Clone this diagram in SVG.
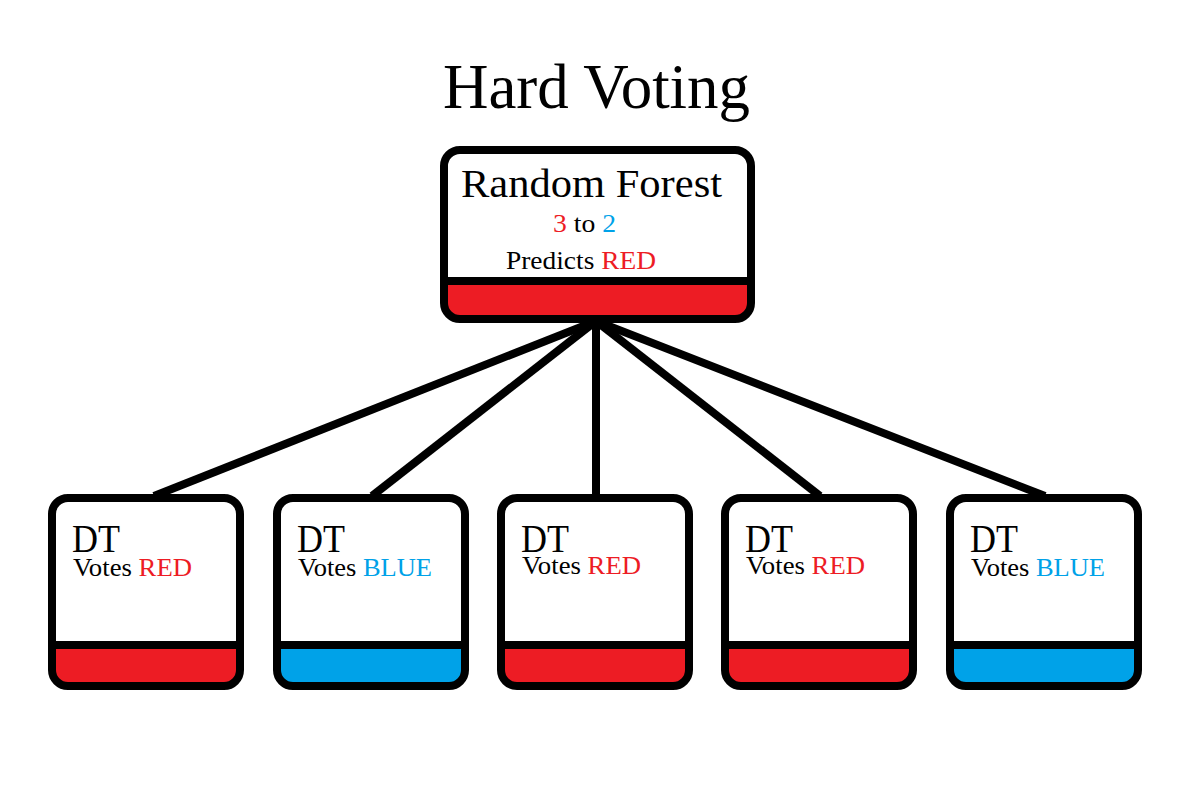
<svg xmlns="http://www.w3.org/2000/svg" width="1181" height="791" viewBox="0 0 1181 791">
<style>
text{font-family:"Liberation Serif","Times New Roman",serif;fill:#000}
.r{fill:#ED1C24}
.b{fill:#00A2E8}
.box{fill:none;stroke:#000;stroke-width:8}
.bar{fill:none;stroke:#000;stroke-width:8}
.conn line{stroke:#000;stroke-width:8}
.dt{font-size:39px}
.vt{font-size:25px}
</style>
<rect width="1181" height="791" fill="#fff"/>
<text x="443" y="108" font-size="63" textLength="307" lengthAdjust="spacingAndGlyphs">Hard Voting</text>
<g class="conn" id="connectors">
<line x1="596" y1="321" x2="154" y2="496"/>
<line x1="596" y1="321" x2="372" y2="496"/>
<line x1="596" y1="321" x2="596" y2="496"/>
<line x1="596" y1="321" x2="820" y2="496"/>
<line x1="596" y1="321" x2="1045" y2="496"/>
</g>
<g id="rf">
<rect x="444" y="150" width="307" height="169" rx="16" fill="#fff"/>
<path class="r" d="M444,281H751V303Q751,319 735,319H460Q444,319 444,303Z"/>
<rect class="box" x="444" y="150" width="307" height="169" rx="16"/>
<line class="bar" x1="444" y1="281" x2="751" y2="281"/>
<text x="461" y="197" font-size="41" textLength="261" lengthAdjust="spacingAndGlyphs">Random Forest</text>
<text x="553" y="232" font-size="26" textLength="63" lengthAdjust="spacingAndGlyphs"><tspan class="r">3</tspan> to <tspan class="b">2</tspan></text>
<text x="506" y="269" font-size="25" textLength="150" lengthAdjust="spacingAndGlyphs">Predicts <tspan class="r">RED</tspan></text>
</g>
<g id="dt1">
<rect x="52" y="498" width="188" height="188" rx="16" fill="#fff"/>
<path class="r" d="M52,645H240V670Q240,686 224,686H68Q52,686 52,670Z"/>
<rect class="box" x="52" y="498" width="188" height="188" rx="16"/>
<line class="bar" x1="52" y1="645" x2="240" y2="645"/>
<text class="dt" x="72" y="552" textLength="48" lengthAdjust="spacingAndGlyphs">DT</text>
<text class="vt" x="73" y="576" textLength="119" lengthAdjust="spacingAndGlyphs">Votes <tspan class="r">RED</tspan></text>
</g>
<g id="dt2">
<rect x="277" y="498" width="188" height="188" rx="16" fill="#fff"/>
<path class="b" d="M277,645H465V670Q465,686 449,686H293Q277,686 277,670Z"/>
<rect class="box" x="277" y="498" width="188" height="188" rx="16"/>
<line class="bar" x1="277" y1="645" x2="465" y2="645"/>
<text class="dt" x="297" y="552" textLength="48" lengthAdjust="spacingAndGlyphs">DT</text>
<text class="vt" x="298" y="576" textLength="134" lengthAdjust="spacingAndGlyphs">Votes <tspan class="b">BLUE</tspan></text>
</g>
<g id="dt3">
<rect x="501" y="498" width="188" height="188" rx="16" fill="#fff"/>
<path class="r" d="M501,645H689V670Q689,686 673,686H517Q501,686 501,670Z"/>
<rect class="box" x="501" y="498" width="188" height="188" rx="16"/>
<line class="bar" x1="501" y1="645" x2="689" y2="645"/>
<text class="dt" x="521" y="552" textLength="48" lengthAdjust="spacingAndGlyphs">DT</text>
<text class="vt" x="522" y="574" textLength="119" lengthAdjust="spacingAndGlyphs">Votes <tspan class="r">RED</tspan></text>
</g>
<g id="dt4">
<rect x="725" y="498" width="188" height="188" rx="16" fill="#fff"/>
<path class="r" d="M725,645H913V670Q913,686 897,686H741Q725,686 725,670Z"/>
<rect class="box" x="725" y="498" width="188" height="188" rx="16"/>
<line class="bar" x1="725" y1="645" x2="913" y2="645"/>
<text class="dt" x="745" y="552" textLength="48" lengthAdjust="spacingAndGlyphs">DT</text>
<text class="vt" x="746" y="574" textLength="119" lengthAdjust="spacingAndGlyphs">Votes <tspan class="r">RED</tspan></text>
</g>
<g id="dt5">
<rect x="950" y="498" width="188" height="188" rx="16" fill="#fff"/>
<path class="b" d="M950,645H1138V670Q1138,686 1122,686H966Q950,686 950,670Z"/>
<rect class="box" x="950" y="498" width="188" height="188" rx="16"/>
<line class="bar" x1="950" y1="645" x2="1138" y2="645"/>
<text class="dt" x="970" y="552" textLength="48" lengthAdjust="spacingAndGlyphs">DT</text>
<text class="vt" x="971" y="576" textLength="134" lengthAdjust="spacingAndGlyphs">Votes <tspan class="b">BLUE</tspan></text>
</g>
</svg>
